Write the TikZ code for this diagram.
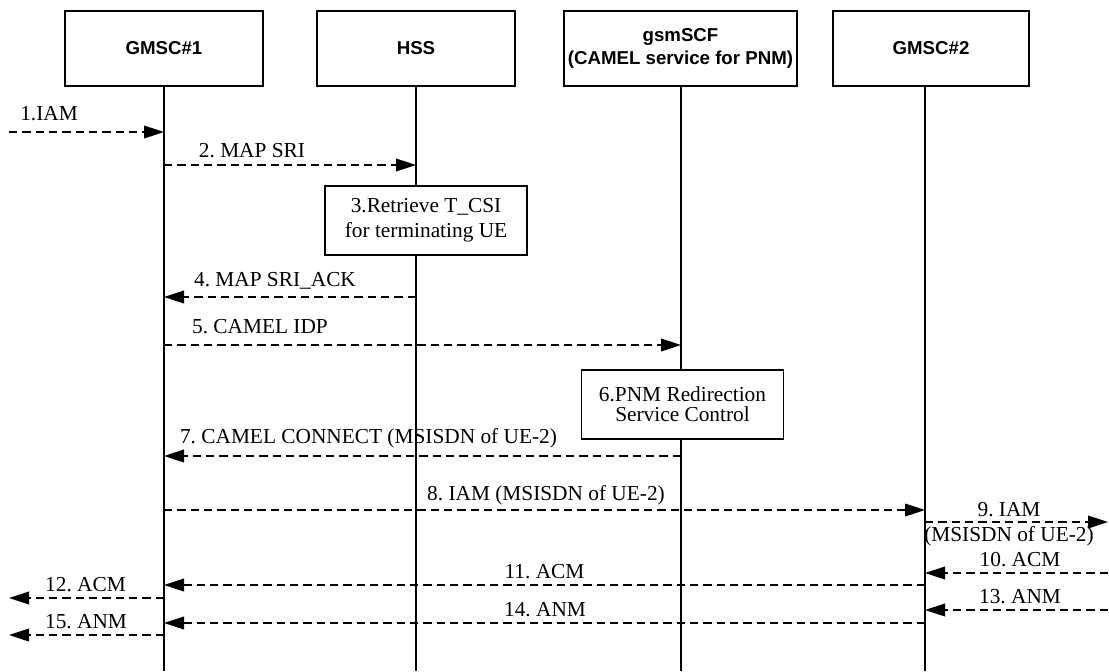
\documentclass[tikz,border=0pt]{standalone}
\usepackage{fontspec}
\setmainfont{Liberation Serif}
\newfontfamily\headfont{Liberation Sans}
\usetikzlibrary{arrows.meta}
\frenchspacing

\tikzset{
  head/.style={draw, line width=1.5pt, minimum height=56.25pt, inner sep=0pt, align=center,
    font=\headfont\fontsize{14pt}{17pt}\selectfont\bfseries},
  lifeline/.style={line width=1.5pt},
  msg/.style={line width=1.2pt, dash pattern=on 6.2pt off 3.8pt,
    -{Triangle[length=15pt,width=9.5pt]}},
  stepbox/.style={draw, fill=white, line width=1.4pt, minimum width=151.5pt,
    minimum height=51.75pt, inner sep=0pt, align=center},
  lbl/.style={anchor=base, inner sep=0pt, font=\fontsize{16pt}{19pt}\selectfont}
}

\begin{document}
\begin{tikzpicture}[x=0.75pt, y=-0.75pt]
\useasboundingbox (0,0) rectangle (1109,671);

% entities
\node[head, minimum width=148.5pt] (gmscA) at (164,48.5) {GMSC\#1};
\node[head, minimum width=148.5pt] (hss) at (416,48.5) {HSS};
\node[head, minimum width=174.75pt] (scf) at (680.5,48.5) {gsmSCF\\(CAMEL service for PNM)};
\node[head, minimum width=147pt] (gmscB) at (931,48.5) {GMSC\#2};

% lifelines
\coordinate (lA) at (164,671);
\coordinate (lB) at (416,671);
\coordinate (lC) at (681,671);
\coordinate (lD) at (925,671);
\draw[lifeline] (gmscA.south) -- (lA);
\draw[lifeline] (hss.south) -- (lB);
\draw[lifeline] (scf.south -| lC) -- (lC);
\draw[lifeline] (gmscB.south -| lD) -- (lD);

% outside ends
\coordinate (inL) at (9,0);
\coordinate (outR) at (1108,0);

% steps
\node[stepbox, font=\fontsize{16pt}{18.75pt}\selectfont] (retrieve) at (426,220.5)
  {3.Retrieve T\_CSI\\for terminating UE};
\node[stepbox, font=\fontsize{16pt}{15pt}\selectfont] (redirect) at (682.5,404.5)
  {6.PNM Redirection\\ Service Control};

% messages
\draw[msg] (inL |- 0,132) -- (lA |- 0,132);
\node[lbl] (iam1) at (49,120) {1.IAM};
\draw[msg] (lA |- 0,165) -- (lB |- 0,165);
\node[lbl] (sri) at (252,157) {2. MAP SRI};
\draw[msg] (lB |- 0,297) -- (lA |- 0,297);
\node[lbl] (sriack) at (275,286) {4. MAP SRI\_ACK};
\draw[msg] (lA |- 0,345) -- (lC |- 0,345);
\node[lbl] (idp) at (260,333) {5. CAMEL IDP};
\draw[msg] (lC |- 0,456) -- (lA |- 0,456);
\node[lbl] (connect) at (368.5,443) {7. CAMEL CONNECT (MSISDN of UE-2)};
\draw[msg] (lA |- 0,510) -- (lD |- 0,510);
\node[lbl] (iam8) at (546,500) {8. IAM (MSISDN of UE-2)};
\draw[msg] (lD |- 0,522) -- (outR |- 0,522);
\node[lbl] (iam9) at (1009,516) {9. IAM};
\node[lbl] (iam9b) at (1009,541) {(MSISDN of UE-2)};
\draw[msg] (outR |- 0,573) -- (lD |- 0,573);
\node[lbl] (acm10) at (1020,566) {10. ACM};
\draw[msg] (lD |- 0,585) -- (lA |- 0,585);
\node[lbl] (acm11) at (544.5,578) {11. ACM};
\draw[msg] (lA |- 0,598) -- (inL |- 0,598);
\node[lbl] (acm12) at (85.5,591) {12. ACM};
\draw[msg] (outR |- 0,610) -- (lD |- 0,610);
\node[lbl] (anm13) at (1020,603) {13. ANM};
\draw[msg] (lD |- 0,623) -- (lA |- 0,623);
\node[lbl] (anm14) at (545,616) {14. ANM};
\draw[msg] (lA |- 0,635) -- (inL |- 0,635);
\node[lbl] (anm15) at (86,628) {15. ANM};
\end{tikzpicture}
\end{document}
